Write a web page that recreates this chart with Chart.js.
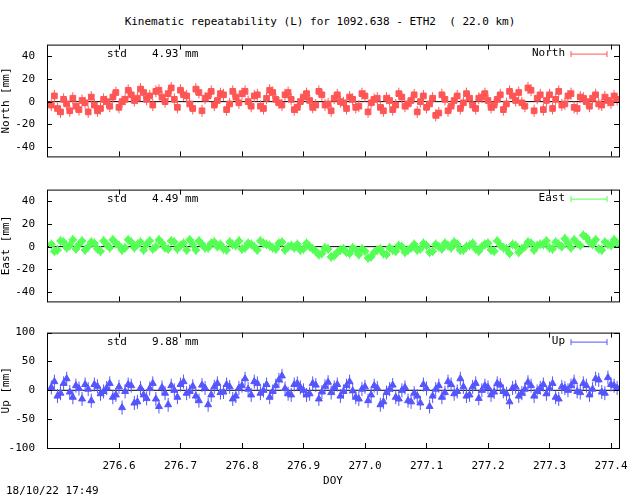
<!DOCTYPE html>
<html>
<head>
<meta charset="utf-8">
<script src="https://cdn.jsdelivr.net/npm/chart.js@4/dist/chart.umd.min.js"></script>
<style>
body { margin:0; background:#fff; width:640px; height:496px; position:relative; overflow:hidden; font-family:"DejaVu Sans Mono", monospace; }
canvas { position:absolute; left:0; }
.txt { position:absolute; font-size:11px; color:#000; white-space:pre; }
</style>
</head>
<body>
<div class="txt" style="left:0;width:640px;text-align:center;top:15px">Kinematic repeatability (L) for 1092.638 - ETH2  ( 22.0 km)</div>
<canvas id="cN" style="top:34px" width="640" height="133"></canvas>
<canvas id="cE" style="top:179px" width="640" height="133"></canvas>
<canvas id="cU" style="top:322px" width="640" height="170"></canvas>
<div class="txt" style="left:6px;top:484px">18/10/22 17:49</div>
<script>
// dia del año (epocas enteras y medias)
const doy = [276.49,276.50,276.51,276.52,276.53,276.54,276.55,276.56,276.57,276.58,
276.59,276.60,276.61,276.62,276.63,276.64,276.65,276.66,276.67,276.68,
276.69,276.70,276.71,276.72,276.73,276.74,276.75,276.76,276.77,276.78,
276.79,276.80,276.81,276.82,276.83,276.84,276.85,276.86,276.87,276.88,
276.89,276.90,276.91,276.92,276.93,276.94,276.95,276.96,276.97,276.98,
276.99,277.00,277.01,277.02,277.03,277.04,277.05,277.06,277.07,277.08,
277.09,277.10,277.11,277.12,277.13,277.14,277.15,277.16,277.17,277.18,
277.19,277.20,277.21,277.22,277.23,277.24,277.25,277.26,277.27,277.28,
277.29,277.30,277.31,277.32,277.33,277.34,277.35,277.36,277.37,277.38,
277.39,277.40,277.41];
const doyB = [276.495,276.505,276.515,276.525,276.535,276.545,276.555,276.565,276.575,276.585,
276.595,276.605,276.615,276.625,276.635,276.645,276.655,276.665,276.675,276.685,
276.695,276.705,276.715,276.725,276.735,276.745,276.755,276.765,276.775,276.785,
276.795,276.805,276.815,276.825,276.835,276.845,276.855,276.865,276.875,276.885,
276.895,276.905,276.915,276.925,276.935,276.945,276.955,276.965,276.975,276.985,
276.995,277.005,277.015,277.025,277.035,277.045,277.055,277.065,277.075,277.085,
277.095,277.105,277.115,277.125,277.135,277.145,277.155,277.165,277.175,277.185,
277.195,277.205,277.215,277.225,277.235,277.245,277.255,277.265,277.275,277.285,
277.295,277.305,277.315,277.325,277.335,277.345,277.355,277.365,277.375,277.385,
277.395,277.405];

const north = [-3,-6,2,-8,-4,1,-9,-3,-6,0, 4,-5,2,6,3,8,5,9,4,7, 2,10,5,-6,8,3,9,1,6,-2,
4,7,0,5,-4,3,8,-1,6,2, -5,4,1,-3,6,-2,3,0,-6,2, -4,5,-1,3,-8,1,-3,4,-2,6,
0,-5,3,-10,2,-4,5,-1,3,-6, 4,1,-3,6,-2,5,8,-4,10,3, -7,6,2,-3,5,-5,4,0,3,-2, 4,-1,2];
const northB = [5,-9,-2,3,-7,-1,4,-8,2,-4, 8,0,10,1,11,2,-3,10,0,12, -5,6,-2,11,-8,5,-3,7,-7,9,
-1,9,-4,6,-6,10,2,-3,8,-7, 0,7,-5,9,-3,-8,6,-1,4,-5, 7,-9,2,-5,3,-7,7,-4,1,-9,
5,-2,-12,6,-8,1,-6,7,-3,3, 7,-5,2,-7,9,1,-1,12,-8,6, 1,-6,9,-2,7,-6,3,-4,6,-3, 1,5];
const east = [2,-3,4,1,-2,5,0,3,-4,2, 6,1,-1,4,2,-3,5,0,3,-2, 4,1,-3,2,5,-1,3,0,-2,4,
1,-2,3,0,5,2,-1,3,-3,1, 2,-2,0,-4,-6,-2,-8,-3,-5,-1, -7,-4,-9,-3,-6,-1,-4,0,-3,2,
-2,1,-4,0,3,-1,2,-3,1,-2, 0,3,-4,1,-2,2,-5,0,3,1, 2,-1,4,0,3,6,1,8,2,-2, 4,1,3];
const eastB = [-4,5,-1,6,2,-3,4,-2,5,-1, 3,-3,6,-1,4,2,-2,6,-1,5, -2,3,6,-3,2,-1,4,2,-3,2,
5,-1,2,-3,3,1,-2,4,0,-1, -3,3,-2,-7,-1,-9,-5,-2,-6,-3, -2,-10,-5,-2,-7,-3,1,-5,-1,-3,
3,-5,2,-2,1,4,-3,0,3,-4, 2,-3,5,-1,-6,1,-2,4,-3,2, 5,-2,2,7,-1,3,10,4,6,-3, 2,6];
const up = [5,-10,12,-3,8,-15,2,10,-6,4, -12,6,-2,8,-20,-8,3,-15,5,-25, 0,10,-5,7,-18,4,-8,12,-3,6,
-10,8,2,15,-5,10,-2,18,3,-8, 12,0,-6,9,-3,14,5,-10,8,-1, -15,6,-8,4,-20,2,-12,0,-18,-5,
-22,3,-10,8,-4,10,-2,6,-8,12, 0,5,-3,9,-6,4,-10,2,8,-2, 10,3,-12,6,0,15,-4,8,2,18, -5,10,4];
const upB = [15,-5,20,-12,3,10,-18,7,-2,12, -8,-30,10,-22,4,-14,12,-28,-5,8, -12,15,-2,-10,9,-25,6,-4,10,-15,
4,20,-8,12,0,-12,8,25,-6,10, 5,-8,12,-15,7,-4,10,-2,15,-12, 2,-18,8,-25,-4,9,-15,5,-20,-10,
10,-28,2,-12,15,-6,20,-10,6,-14, 8,-8,12,-2,-20,6,-5,14,-10,4, -6,12,-15,4,8,-2,12,-8,20,-3, 22,8];

const xTicks = [276.6,276.7,276.8,276.9,277,277.1,277.2,277.3,277.4];
const neTicks = [-40,-20,0,20,40];
const upTicks = [-100,-50,0,50,100];
const fuente = '11px "DejaVu Sans Mono", monospace';

// marco, barras de error, std y leyenda
const marco = {
  id: 'marco',
  beforeDatasetsDraw(chart, args, o) {
    const ctx = chart.ctx, a = chart.chartArea, ys = chart.scales.y;
    ctx.save();
    ctx.beginPath(); ctx.rect(a.left, a.top, a.right - a.left, a.bottom - a.top); ctx.clip();
    ctx.strokeStyle = '#000'; ctx.lineWidth = 1;
    ctx.beginPath(); ctx.moveTo(a.left, ys.getPixelForValue(0)); ctx.lineTo(a.right, ys.getPixelForValue(0)); ctx.stroke();
    ctx.strokeStyle = o.color;
    chart.data.datasets.forEach((ds, k) => {
      chart.getDatasetMeta(k).data.forEach(p => {
        ctx.beginPath(); ctx.moveTo(p.x, p.y - o.err); ctx.lineTo(p.x, p.y + o.err); ctx.stroke();
      });
    });
    ctx.restore();
  },
  afterDraw(chart, args, o) {
    const ctx = chart.ctx, a = chart.chartArea;
    ctx.save();
    ctx.strokeStyle = '#000'; ctx.lineWidth = 1;
    ctx.strokeRect(a.left + 0.5, a.top + 0.5, a.right - a.left, a.bottom - a.top);
    chart.scales.y.ticks.forEach(t => {
      const y = Math.round(chart.scales.y.getPixelForValue(t.value)) + 0.5;
      ctx.beginPath(); ctx.moveTo(a.left, y); ctx.lineTo(a.left + 5, y);
      ctx.moveTo(a.right, y); ctx.lineTo(a.right - 5, y); ctx.stroke();
    });
    xTicks.forEach(v => {
      const x = Math.round(chart.scales.x.getPixelForValue(v)) + 0.5;
      ctx.beginPath(); ctx.moveTo(x, a.bottom); ctx.lineTo(x, a.bottom - 5);
      ctx.moveTo(x, a.top); ctx.lineTo(x, a.top + 5); ctx.stroke();
    });
    ctx.font = fuente; ctx.fillStyle = '#000'; ctx.textBaseline = 'middle';
    ctx.fillText('std', 107, a.top + 10);
    ctx.fillText(o.std, 152, a.top + 10);
    ctx.textAlign = 'right';
    ctx.fillText(o.name, 565, a.top + 9);
    ctx.strokeStyle = o.color;
    const ly = a.top + 9.5;
    ctx.beginPath(); ctx.moveTo(571, ly); ctx.lineTo(607, ly);
    ctx.moveTo(571, ly - 3); ctx.lineTo(571, ly + 3);
    ctx.moveTo(607, ly - 3); ctx.lineTo(607, ly + 3); ctx.stroke();
    ctx.restore();
  }
};

function serie(name, xs, ys, color, pstyle, rad) {
  return {
    label: name,
    data: xs.map((d, i) => ({x: d, y: ys[i]})),
    pointStyle: pstyle,
    pointRadius: rad,
    pointBorderWidth: 1,
    borderColor: color,
    backgroundColor: color
  };
}

function panel(id, name, dataA, dataB, color, pstyle, rad, ymin, ymax, yTicks, std, err, ultimo, title) {
  return new Chart(document.getElementById(id), {
    type: 'scatter',
    data: { datasets: [serie(name, doy, dataA, color, pstyle, rad), serie(name, doyB, dataB, color, pstyle, rad)] },
    options: {
      responsive: false, animation: false,
      layout: { padding: { top: 6, bottom: ultimo ? 0 : 6, right: 21, left: 0 } },
      plugins: { legend: { display: false }, tooltip: { enabled: false },
        marco: { color: color, name: name, std: std, err: err } },
      scales: {
        x: { type: 'linear', min: 276.483, max: 277.413, display: ultimo,
          grid: { display: false },
          border: { display: false },
          afterBuildTicks: s => { s.ticks = xTicks.map(v => ({value: v})); },
          afterFit: s => { s.height = ultimo ? 44 : 0; },
          ticks: { color: '#000', font: { family: 'DejaVu Sans Mono', size: 11 }, maxRotation: 0, padding: 4 },
          title: { display: true, text: 'DOY', color: '#000', font: { family: 'DejaVu Sans Mono', size: 11 } } },
        y: { min: ymin, max: ymax,
          grid: { display: false }, border: { display: false },
          afterBuildTicks: s => { s.ticks = yTicks.map(v => ({value: v})); },
          afterFit: s => { s.width = 47; },
          ticks: { color: '#000', font: { family: 'DejaVu Sans Mono', size: 11 }, padding: 4 },
          title: { display: true, text: title, color: '#000', padding: 0, font: { family: 'DejaVu Sans Mono', size: 11 } } }
      }
    },
    plugins: [marco]
  });
}

panel('cN', 'North', north, northB, '#ff5555', 'rect', 4, -48, 50, neTicks, '4.93 mm', 6, false, 'North [mm]');
panel('cE', 'East', east, eastB, '#55ff55', 'rectRot', 4, -48, 50, neTicks, '4.49 mm', 5, false, 'East [mm]');
panel('cU', 'Up', up, upB, '#5555ff', 'triangle', 4, -100, 100, upTicks, '9.88 mm', 7, true, 'Up [mm]');
</script>
</body>
</html>
